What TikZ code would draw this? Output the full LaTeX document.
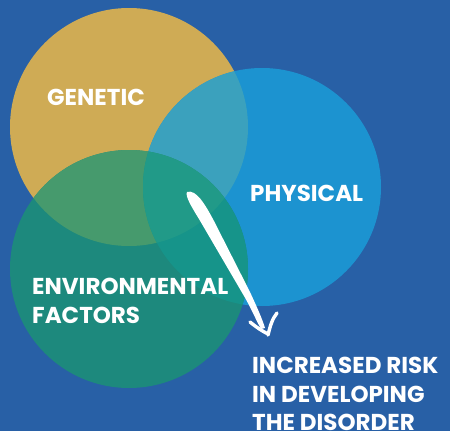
\documentclass[tikz,border=0pt]{standalone}
\usepackage{fontspec}
\setmainfont{Poppins}
\definecolor{bg}{HTML}{2860A6}
\definecolor{cgold}{HTML}{CFAB55}
\definecolor{cblue}{HTML}{1C93D0}
\definecolor{cgreen}{HTML}{1D897D}
\definecolor{cgb}{HTML}{3BA1BD}
\definecolor{cgg}{HTML}{469A6D}
\definecolor{cbg}{HTML}{16948A}
\definecolor{ctri}{HTML}{219A88}
\begin{document}
\begin{tikzpicture}[x=1pt,y=-1pt,
  lbl/.style={text=white,font=\bfseries\fontsize{23}{28.5}\selectfont,inner sep=0pt,align=left,anchor=north west},
  arrowstroke/.style={white,line width=3.4pt,line cap=round,line join=round}]
\fill[bg] (0,0) rectangle (450,431);
\useasboundingbox (0,0) rectangle (450,431);
\def\gold{(129,127) circle (119)}
\def\blue{(262,187) circle (119)}
\def\green{(129,269) circle (119)}
\fill[cgold] \gold;
\fill[cblue] \blue;
\fill[cgreen] \green;
\begin{scope}\clip \gold; \fill[cgb] \blue; \fill[cgg] \green;\end{scope}
\begin{scope}\clip \blue; \fill[cbg] \green;\end{scope}
\begin{scope}\clip \gold; \clip \blue; \fill[ctri] \green;\end{scope}
\node[lbl] (gen) at (47,89) {GENETIC};
\node[lbl] (phy) at (250,185) {PHYSICAL};
\node[lbl] (env) at (32,278) {ENVIRONMENTAL\\FACTORS};
\node[lbl] (risk) at (252,357) {INCREASED RISK\\IN DEVELOPING\\THE DISORDER};
% hand-drawn arrow
\coordinate (s) at (190,193);
\coordinate (e) at (262,330);
\fill[white] (187,192) .. controls (196,189) and (205,204) .. (214,221)
  -- (250,292) .. controls (256,305) and (262,318) .. (265,328)
  -- (261,329) .. controls (255,318) and (250,306) .. (244,296)
  -- (199,219) .. controls (191,206) and (185,196) .. cycle;
\draw[arrowstroke] (250,322) .. controls (256,327) and (262,331) .. (268,334);
\draw[arrowstroke] (268,335) .. controls (270,327) and (272,319) .. (277,313);
\end{tikzpicture}
\end{document}
